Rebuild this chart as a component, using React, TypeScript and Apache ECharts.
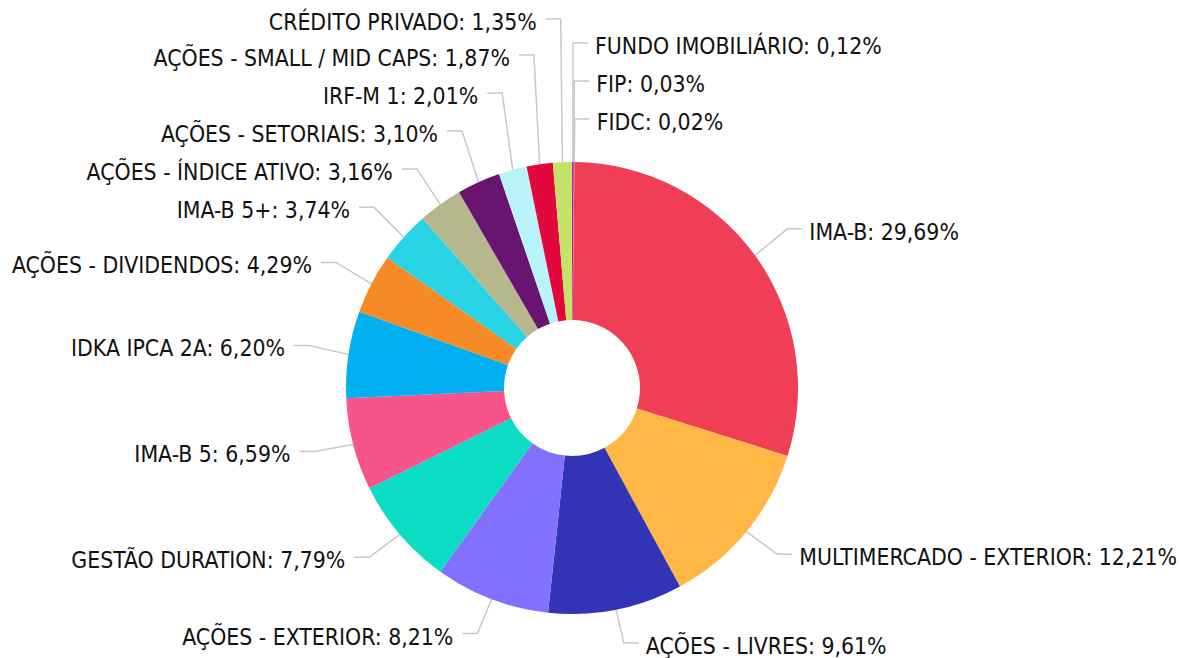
import React, { useEffect, useRef } from "react";
import * as echarts from "echarts";

const categories = [
  "FUNDO IMOBILIÁRIO",
  "FIP",
  "FIDC",
  "IMA-B",
  "MULTIMERCADO - EXTERIOR",
  "AÇÕES - LIVRES",
  "AÇÕES - EXTERIOR",
  "GESTÃO DURATION",
  "IMA-B 5",
  "IDKA IPCA 2A",
  "AÇÕES - DIVIDENDOS",
  "IMA-B 5+",
  "AÇÕES - ÍNDICE ATIVO",
  "AÇÕES - SETORIAIS",
  "IRF-M 1",
  "AÇÕES - SMALL / MID CAPS",
  "CRÉDITO PRIVADO",
];

const values = [0.12, 0.03, 0.02, 29.69, 12.21, 9.61, 8.21, 7.79, 6.59, 6.2, 4.29, 3.74, 3.16, 3.1, 2.01, 1.87, 1.35];

const colors = [
  "#d7198c",
  "#7a4fd0",
  "#2f8f6f",
  "#ef3e55",
  "#ffb845",
  "#3333b5",
  "#8470ff",
  "#0bdcc4",
  "#f7548c",
  "#00b0f0",
  "#f68b26",
  "#27d3e4",
  "#b5b88c",
  "#6a1472",
  "#b9f3fb",
  "#e2083d",
  "#c4e26a",
];

const CX = 572;
const CY = 388;
const R_OUT = 226;
const R_IN = 68;
const LEN = 40;
const LEN2 = 15;
const LABEL_H = 38;
const DIST_RIGHT = 7;
const DIST_LEFT = 9;
const LINE_RAISE = 3;
const MIN_Y = 22;
const MAX_Y = 646;

type LabelPos = { x: number; y: number; side: number; pts: number[][] };

function computeLabelLayout(): LabelPos[] {
  const total = values.reduce((a, b) => a + b, 0);
  let cum = 0;
  const items = values.map((v, i) => {
    const mid = -Math.PI / 2 + ((cum + v / 2) / total) * Math.PI * 2;
    cum += v;
    const dx = Math.cos(mid);
    const dy = Math.sin(mid);
    const x1 = CX + R_OUT * dx;
    const y1 = CY + R_OUT * dy;
    const x2 = CX + (R_OUT + LEN) * dx;
    const y2 = CY + (R_OUT + LEN) * dy;
    const side = dx < 0 ? -1 : 1;
    return { i, x1, y1, x2, y2, side, y: y2 };
  });
  for (const side of [-1, 1]) {
    const upper = items.filter((it) => it.side === side && it.y2 < CY).sort((a, b) => b.y2 - a.y2);
    let last = Infinity;
    for (const it of upper) {
      it.y = Math.max(MIN_Y, Math.min(it.y2, last - LABEL_H));
      last = it.y;
    }
    const lower = items.filter((it) => it.side === side && it.y2 >= CY).sort((a, b) => a.y2 - b.y2);
    last = -Infinity;
    for (const it of lower) {
      it.y = Math.min(MAX_Y, Math.max(it.y2, last + LABEL_H));
      last = it.y;
    }
  }
  return items.map((it) => {
    const x3 = it.x2 + it.side * LEN2;
    const ly = it.y - LINE_RAISE;
    return {
      x: x3 + it.side * (it.side > 0 ? DIST_RIGHT : DIST_LEFT),
      y: it.y,
      side: it.side,
      pts: [
        [it.x1, it.y1],
        [it.x2, ly],
        [x3, ly],
      ],
    };
  });
}

export default function App() {
  const ref = useRef<HTMLDivElement>(null);
  useEffect(() => {
    if (!ref.current) return;
    const chart = echarts.init(ref.current, undefined, { renderer: "svg" });
    const layout = computeLabelLayout();
    const data = categories.map((name, i) => ({
      name,
      value: values[i],
      itemStyle: { color: colors[i] },
    }));
    chart.setOption({
      animation: false,
      backgroundColor: "#ffffff",
      series: [
        {
          type: "pie",
          center: [CX, CY],
          radius: [R_IN, R_OUT],
          startAngle: 90,
          clockwise: true,
          avoidLabelOverlap: false,
          data,
          label: {
            show: true,
            position: "outside",
            color: "#111111",
            fontSize: 22.8,
            overflow: "none",
            fontFamily: "'DejaVu Sans Condensed', 'DejaVu Sans', sans-serif",
            formatter: (p: any) => `${p.name}: ${p.value.toFixed(2).replace(".", ",")}%`,
          },
          labelLine: {
            show: true,
            length: LEN,
            length2: LEN2,
            smooth: false,
            lineStyle: { color: "#c8c8c8", width: 1.5 },
          },
          labelLayout: (params: any) => {
            const l = layout[params.dataIndex];
            return {
              x: l.x,
              y: l.y,
              align: l.side > 0 ? "left" : "right",
              verticalAlign: "middle",
              labelLinePoints: l.pts,
            };
          },
          emphasis: { disabled: true },
        },
      ],
    });
    return () => chart.dispose();
  }, []);
  return <div ref={ref} style={{ width: 1180, height: 658, position: "absolute", left: 0, top: 0 }} />;
}
